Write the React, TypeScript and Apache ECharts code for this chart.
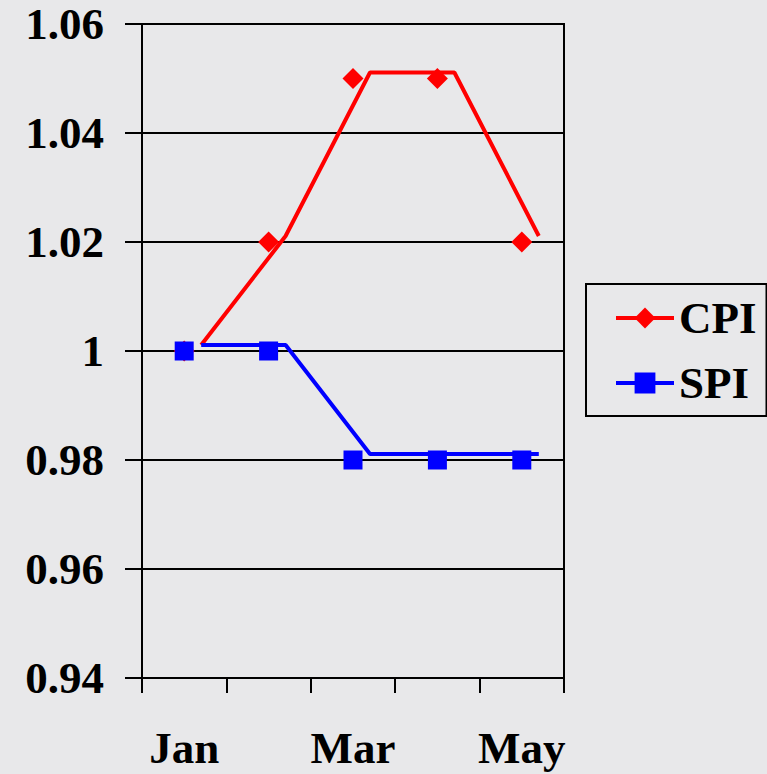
import React, { useEffect, useRef } from "react";
import * as echarts from "echarts";

const months = ["Jan", "Feb", "Mar", "Apr", "May"];
const cpiValues = [1.0, 1.02, 1.05, 1.05, 1.02];
const spiValues = [1.0, 1.0, 0.98, 0.98, 0.98];
const yMin = 0.94;
const yMax = 1.06;
const yStep = 0.02;

const FONT = "'Liberation Serif', 'Times New Roman', serif";

export default function App() {
  const ref = useRef<HTMLDivElement>(null);
  useEffect(() => {
    document.body.style.margin = "0";
    const chart = echarts.init(ref.current!, null, { renderer: "svg" });
    const gridPos = { left: 142, top: 24, width: 422, height: 654 };
    const lineGridPos = { left: 159, top: 18, width: 422, height: 654 };
    const hiddenX = (gi: number) => ({
      type: "category" as const,
      gridIndex: gi,
      data: months,
      boundaryGap: true,
      show: false,
    });
    const hiddenY = (gi: number) => ({
      type: "value" as const,
      gridIndex: gi,
      min: yMin,
      max: yMax,
      interval: yStep,
      show: false,
    });
    chart.setOption({
      animation: false,
      backgroundColor: "#e8e8ea",
      grid: [
        { ...gridPos, show: true, borderColor: "#000", borderWidth: 2, backgroundColor: "transparent" },
        { ...lineGridPos },
      ],
      xAxis: [
        {
          type: "category",
          gridIndex: 0,
          data: months,
          boundaryGap: true,
          axisLine: { show: true, lineStyle: { color: "#000", width: 2 } },
          axisTick: { show: true, interval: 0, length: 15, lineStyle: { color: "#000", width: 2 } },
          axisLabel: {
            interval: 1,
            margin: 48,
            color: "#000",
            fontFamily: FONT,
            fontWeight: "bold",
            fontSize: 45,
            lineHeight: 44,
          },
        },
        hiddenX(1),
      ],
      yAxis: [
        {
          type: "value",
          gridIndex: 0,
          min: yMin,
          max: yMax,
          interval: yStep,
          axisLine: { show: true, lineStyle: { color: "#000", width: 2 } },
          axisTick: { show: true, length: 17, lineStyle: { color: "#000", width: 2 } },
          splitLine: { show: true, lineStyle: { color: "#000", width: 2 } },
          axisLabel: {
            margin: 38,
            color: "#000",
            fontFamily: FONT,
            fontWeight: "bold",
            fontSize: 45,
            formatter: (v: number) => String(Number(v.toFixed(2))),
          },
        },
        hiddenY(1),
      ],
      legend: {
        data: ["CPI", "SPI"],
        orient: "vertical",
        left: 586,
        top: 284,
        padding: [11, 10, 10, 28],
        itemWidth: 58,
        itemHeight: 26,
        itemGap: 19,
        borderColor: "#000",
        borderWidth: 2,
        lineStyle: { width: 4 },
        textStyle: {
          color: "#000",
          fontFamily: FONT,
          fontWeight: "bold",
          fontSize: 45,
          lineHeight: 46,
        },
      },
      series: [
        {
          name: "CPI",
          type: "line",
          xAxisIndex: 1,
          yAxisIndex: 1,
          data: cpiValues,
          symbol: "diamond",
          symbolSize: 20,
          showSymbol: false,
          itemStyle: { color: "#ff0000" },
          lineStyle: { color: "#ff0000", width: 4 },
          z: 3,
        },
        {
          name: "SPI",
          type: "line",
          xAxisIndex: 1,
          yAxisIndex: 1,
          data: spiValues,
          symbol: "rect",
          symbolSize: 18,
          showSymbol: false,
          itemStyle: { color: "#0000ff" },
          lineStyle: { color: "#0000ff", width: 4 },
          z: 3,
        },
        {
          name: "CPI markers",
          type: "scatter",
          xAxisIndex: 0,
          yAxisIndex: 0,
          data: cpiValues,
          symbol: "diamond",
          symbolSize: 21,
          itemStyle: { color: "#ff0000", opacity: 1 },
          z: 4,
        },
        {
          name: "SPI markers",
          type: "scatter",
          xAxisIndex: 0,
          yAxisIndex: 0,
          data: spiValues,
          symbol: "rect",
          symbolSize: 19,
          itemStyle: { color: "#0000ff", opacity: 1 },
          z: 5,
        },
      ],
    });
    return () => chart.dispose();
  }, []);
  return <div ref={ref} style={{ width: 767, height: 774 }} />;
}
